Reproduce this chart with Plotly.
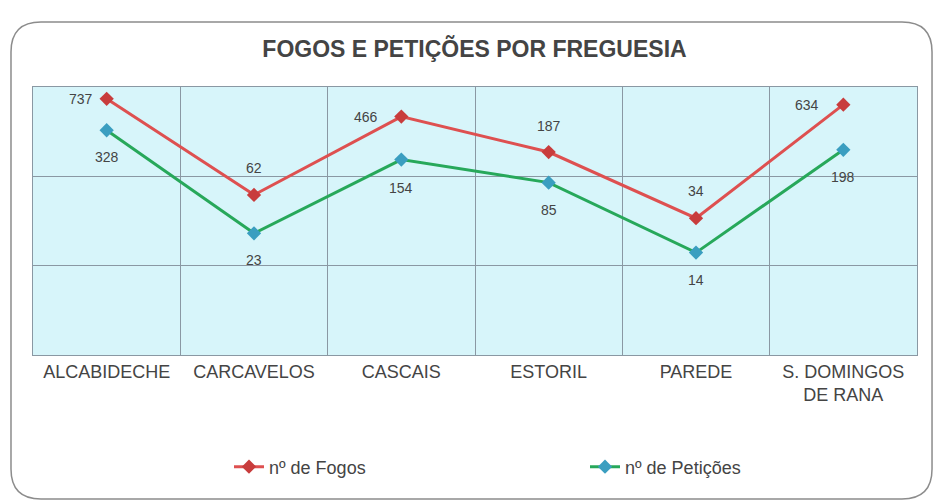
import math
import plotly.graph_objects as go

freguesias = ["ALCABIDECHE", "CARCAVELOS", "CASCAIS", "ESTORIL", "PAREDE", "S. DOMINGOS<br>DE RANA"]
fogos = [737, 62, 466, 187, 34, 634]
peticoes = [328, 23, 154, 85, 14, 198]

# the page body adds an 8px margin, so the figure is laid out in page px minus 8
OFF = 8
W, H = 941 - OFF, 504 - OFF
L, R, T, B = 33 - OFF, 941 - 917, 87 - OFF, 504 - 355
pw, ph = W - L - R, H - T - B


def px_to_paper(x, y):
    # x, y are page pixels
    return (x - OFF - L) / pw, (H - B - (y - OFF)) / ph


def rounded_frame(x0, y0, x1, y1, r):
    def p(x, y):
        a, b = px_to_paper(x, y)
        return f"{a:.4f},{b:.4f}"
    path = f"M {p(x0 + r, y0)} L {p(x1 - r, y0)} Q {p(x1, y0)} {p(x1, y0 + r)} "
    path += f"L {p(x1, y1 - r)} Q {p(x1, y1)} {p(x1 - r, y1)} "
    path += f"L {p(x0 + r, y1)} Q {p(x0, y1)} {p(x0, y1 - r)} "
    path += f"L {p(x0, y0 + r)} Q {p(x0, y0)} {p(x0 + r, y0)} Z"
    return path


fig = go.Figure()

fig.add_trace(go.Scatter(
    x=freguesias, y=fogos, name="nº de Fogos", mode="lines+markers",
    line=dict(color="#de5050", width=3),
    marker=dict(symbol="diamond", size=11, color="#c83c3c"),
    legend="legend",
))
fig.add_trace(go.Scatter(
    x=freguesias, y=peticoes, name="nº de Petições", mode="lines+markers",
    line=dict(color="#27a85a", width=3),
    marker=dict(symbol="diamond", size=11, color="#3a9ec0"),
    legend="legend2",
))

# data labels
fogos_shift = [(-26, 0), (0, 27), (-35, 0), (0, 26), (0, 27), (-36, 0)]
pet_shift = [(0, -27), (0, -27), (0, -28), (0, -27), (0, -27), (0, -27)]
for name, v, (dx, dy) in zip(freguesias, fogos, fogos_shift):
    fig.add_annotation(x=name, y=math.log10(v), text=str(v), showarrow=False,
                       xshift=dx, yshift=dy, font=dict(size=14, color="#444"))
for name, v, (dx, dy) in zip(freguesias, peticoes, pet_shift):
    fig.add_annotation(x=name, y=math.log10(v), text=str(v), showarrow=False,
                       xshift=dx, yshift=dy, font=dict(size=14, color="#444"))

fig.add_shape(type="path", xref="paper", yref="paper",
              path=rounded_frame(11, 22, 932, 499, 30),
              line=dict(color="#8c8c8c", width=1.5), layer="below")

leg_font = dict(size=18, color="#444")
fig.update_layout(
    width=W, height=H,
    margin=dict(l=L, r=R, t=T, b=B),
    paper_bgcolor="white",
    plot_bgcolor="#d7f5fa",
    font=dict(family="Liberation Sans, Arial, sans-serif", color="#333"),
    title=dict(text="<b>FOGOS E PETIÇÕES POR FREGUESIA</b>", x=0.5, xanchor="center",
               y=1 - (49 - OFF) / H, yanchor="middle", font=dict(size=23, color="#444")),
    showlegend=True,
    legend=dict(orientation="h", x=px_to_paper(229, 0)[0], y=px_to_paper(0, 467)[1],
                xanchor="left", yanchor="middle", font=leg_font, bgcolor="rgba(0,0,0,0)"),
    legend2=dict(orientation="h", x=px_to_paper(585, 0)[0], y=px_to_paper(0, 467)[1],
                 xanchor="left", yanchor="middle", font=leg_font, bgcolor="rgba(0,0,0,0)"),
    xaxis=dict(range=[-0.5, 5.5], showgrid=True, gridcolor="#8a98a3", gridwidth=1,
               tickson="boundaries", showline=True, linecolor="#8a98a3", mirror=True,
               ticks="", tickfont=dict(size=18, color="#444")),
    yaxis=dict(type="log", range=[0, 3], showgrid=True, gridcolor="#8a98a3",
               dtick=1, showticklabels=False, ticks="",
               showline=True, linecolor="#8a98a3", mirror=True, zeroline=False),
)

fig.write_html("out.html")
